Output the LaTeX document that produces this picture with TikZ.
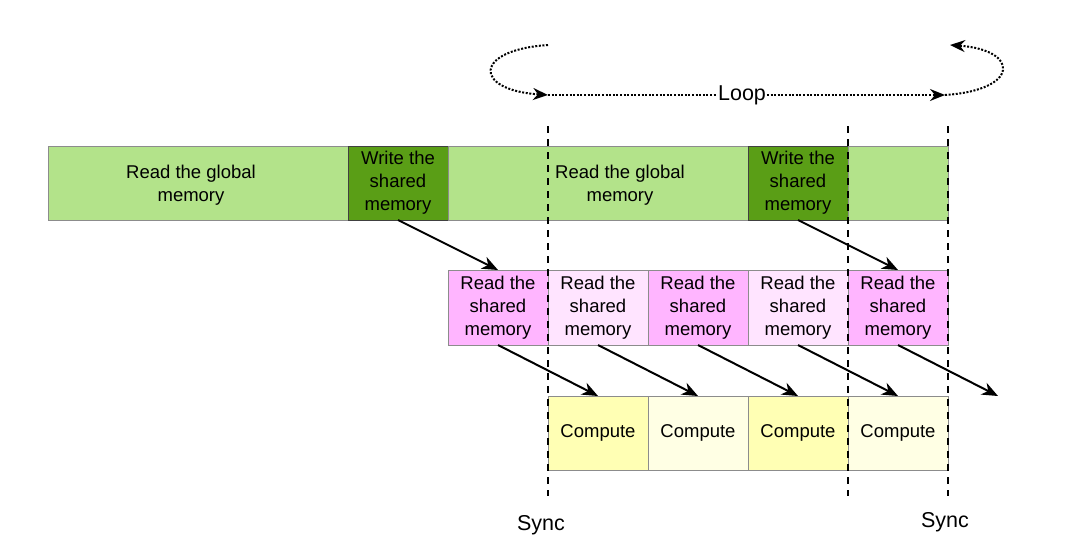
\documentclass[tikz,border=0pt]{standalone}
\usepackage{fontspec}
\setmainfont{Liberation Sans}
\usetikzlibrary{arrows.meta}
\usetikzlibrary{positioning}

\definecolor{greenlight}{RGB}{179,227,138}
\definecolor{greendark}{RGB}{90,158,22}
\definecolor{pinkstrong}{RGB}{255,181,255}
\definecolor{pinklight}{RGB}{255,228,255}
\definecolor{yellowstrong}{RGB}{255,255,180}
\definecolor{yellowlight}{RGB}{255,255,228}

\begin{document}
\begin{tikzpicture}[x=1pt,y=-1pt,
	every node/.style={font=\fontsize{18.5}{23}\selectfont,align=center,inner sep=0pt,outer sep=0pt},
	box/.style={draw=black!45,line width=0.8pt,minimum height=74pt,minimum width=100pt},
	readg/.style={box,fill=greenlight,minimum width=300pt},
	writes/.style={box,fill=greendark,draw=black!75},
	readstrong/.style={box,fill=pinkstrong,minimum height=75pt},
	readlight/.style={box,fill=pinklight,minimum height=75pt},
	compstrong/.style={box,fill=yellowstrong},
	complight/.style={box,fill=yellowlight},
	flow/.style={-{Stealth[length=16pt,width=13pt,inset=5pt]},line width=2pt},
	loopline/.style={line width=2pt,dash pattern=on 2pt off 1.6pt},
	syncline/.style={line width=2pt,dash pattern=on 7pt off 6pt},
	big/.style={font=\fontsize{21.5}{24}\selectfont}]

	\useasboundingbox (0,0) rectangle (1065,555);

	% global memory row
	\node[readg, anchor=north west] (rg1) at (48,146) {};
	\node (rg1text) at (191,185.5) {Read the global\\memory};
	\node[writes, right=0pt of rg1] (ws1) {Write the\\shared\\memory};
	\node[readg, right=0pt of ws1] (rg2) {};
	\node[writes, right=0pt of ws1, xshift=300pt] (ws2) {Write the\\shared\\memory};
	\node[box, fill=greenlight, right=0pt of ws2] (rg3) {};
	\node (rg2text) at (620,185.5) {Read the global\\memory};

	% shared memory row
	\node[readstrong, anchor=north west] (rs1) at (448,270) {Read the\\shared\\memory};
	\node[readlight, right=0pt of rs1] (rs2) {Read the\\shared\\memory};
	\node[readstrong, right=0pt of rs2] (rs3) {Read the\\shared\\memory};
	\node[readlight, right=0pt of rs3] (rs4) {Read the\\shared\\memory};
	\node[readstrong, right=0pt of rs4] (rs5) {Read the\\shared\\memory};

	% compute row
	\node[compstrong, anchor=north west] (cp1) at (548,396) {Compute};
	\node[complight, right=0pt of cp1] (cp2) {Compute};
	\node[compstrong, right=0pt of cp2] (cp3) {Compute};
	\node[complight, right=0pt of cp3] (cp4) {Compute};
	\coordinate (cpout) at (998,396);

	% sync lines
	\coordinate (s1top) at (548,126);
	\coordinate (s1bot) at (548,496);
	\coordinate (s2top) at (848,126);
	\coordinate (s2bot) at (848,496);
	\coordinate (s3top) at (948,126);
	\coordinate (s3bot) at (948,496);
	\draw[syncline] (s1top) -- (s1bot);
	\draw[syncline] (s2top) -- (s2bot);
	\draw[syncline] (s3top) -- (s3bot);
	\node[big] (sync1) at (541,525) {Sync};
	\node[big] (sync2) at (945,522) {Sync};

	% loop
	\node[big, inner sep=1pt] (loop) at (742,95) {Loop};
	\coordinate (lbegin) at (548,45);
	\coordinate (lin) at (548,95);
	\coordinate (lout) at (945,95);
	\coordinate (lend) at (950,45);
	\draw[loopline, -{Stealth[length=15pt,width=12pt,inset=5pt]}] (lbegin) .. controls (473,50) and (473,90) .. (lin);
	\draw[loopline] (lin) -- (loop);
	\draw[loopline, -{Stealth[length=15pt,width=12pt,inset=5pt]}] (loop) -- (lout);
	\draw[loopline, -{Stealth[length=15pt,width=12pt,inset=5pt]}] (lout) .. controls (1020,90) and (1020,50) .. (lend);

	% data flow
	\draw[flow] (ws1.south) -- (rs1.north);
	\draw[flow] (ws2.south) -- (rs5.north);
	\draw[flow] (rs1.south) -- (cp1.north);
	\draw[flow] (rs2.south) -- (cp2.north);
	\draw[flow] (rs3.south) -- (cp3.north);
	\draw[flow] (rs4.south) -- (cp4.north);
	\draw[flow] (rs5.south) -- (cpout);
\end{tikzpicture}
\end{document}
